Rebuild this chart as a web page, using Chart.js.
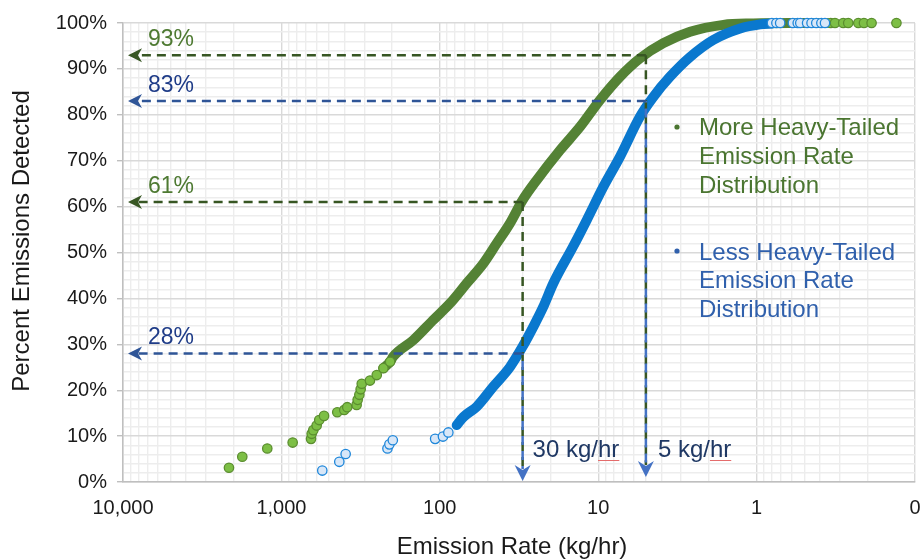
<!DOCTYPE html>
<html>
<head>
<meta charset="utf-8">
<script src="https://cdn.jsdelivr.net/npm/chart.js@4.4.0/dist/chart.umd.min.js"></script>
<style>
  html, body { margin: 0; padding: 0; background: #fff; }
  #wrap { width: 922px; height: 560px; }
</style>
</head>
<body>
<div id="wrap"><canvas id="chart" width="922" height="560"></canvas></div>
<script>
// More heavy-tailed distribution (green)
const greenDotRate = [2143, 1766, 1228, 849, 650, 644, 629, 599, 577, 538, 444, 401, 384, 335, 330, 322, 316, 311, 276, 250, 227, 206];
const greenDotPct = [3.1, 5.5, 7.3, 8.6, 9.4, 10.5, 11.3, 12.3, 13.5, 14.4, 15.2, 15.7, 16.3, 16.8, 17.9, 19.0, 20.2, 21.4, 22.1, 23.3, 24.8, 26.2];
const greenBandRate = [227, 206, 197, 147, 110, 86.3, 67.6, 53.1, 43.7, 36.0, 30, 24.4, 17.4, 13.0, 9.75, 7.28, 5.45, 3.88, 2.63, 1.62, 1.05, 0.615, 0.36];
const greenBandPct = [24.8, 26.2, 27.3, 30.9, 35.3, 38.9, 43.3, 47.6, 52.0, 56.4, 61.4, 65.8, 72.3, 77.4, 83.2, 88.3, 92.3, 95.6, 98.1, 99.6, 99.9, 100, 100];
const greenTopRate = [0.34, 0.32, 0.284, 0.264, 0.228, 0.21, 0.188, 0.131];
const greenTopPct = [100, 100, 100, 100, 100, 100, 100, 100];

// Less heavy-tailed distribution (blue)
const blueDotRate = [552, 431, 393, 214, 208, 198, 107, 95.5, 88.3];
const blueDotPct = [2.5, 4.4, 6.1, 7.3, 8.2, 9.1, 9.4, 9.9, 10.8];
const blueBandRate = [78.2, 70.8, 58.5, 45.9, 36.0, 30, 25.7, 22.2, 19.2, 14.4, 11.8, 9.29, 7.28, 5.45, 4.49, 3.52, 2.63, 1.88, 1.27, 0.95, 0.8];
const blueBandPct = [12.4, 14.2, 16.4, 20.8, 25.1, 29.5, 33.8, 38.2, 43.3, 51.3, 57.1, 64.3, 70.9, 79.6, 83.9, 88.3, 92.6, 96.3, 98.8, 99.7, 99.9];
const blueTopRate = [0.80, 0.75, 0.71, 0.59, 0.55, 0.53, 0.48, 0.45, 0.42, 0.39, 0.37];
const blueTopPct = [100, 100, 100, 100, 100, 100, 100, 100, 100, 100, 100];

// axes
const xTickValues = [10000, 1000, 100, 10, 1, 0.1];
const xTickLabels = ['10,000', '1,000', '100', '10', '1', '0'];

// detection thresholds
const thresholdRate = [30, 5];
const thresholdText = ['30 kg/hr', '5 kg/hr'];
const greenHitPct = [61, 93];
const blueHitPct = [28, 83];

const FONT = "'Liberation Sans', Arial, sans-serif";
const pts = (xs, ys) => xs.map((x, i) => ({ x: x, y: ys[i] }));
const isDecade = (v) => Math.abs(Math.log10(v) - Math.round(Math.log10(v))) < 1e-6;

function dashed(ctx, x1, y1, x2, y2, color, offset) {
  ctx.save();
  ctx.strokeStyle = color;
  ctx.lineWidth = 2.5;
  ctx.setLineDash([9, 6]);
  ctx.lineDashOffset = offset || 0;
  ctx.beginPath();
  ctx.moveTo(x1, y1);
  ctx.lineTo(x2, y2);
  ctx.stroke();
  ctx.restore();
}

function arrowHead(ctx, tx, ty, down, color) {
  const L = down ? 16 : 14, W = down ? 8 : 7, N = down ? 11 : 10;
  ctx.save();
  ctx.fillStyle = color;
  ctx.translate(tx, ty);
  if (down) ctx.rotate(-Math.PI / 2);
  ctx.beginPath();
  ctx.moveTo(0, 0);
  ctx.lineTo(L, -W);
  ctx.lineTo(N, 0);
  ctx.lineTo(L, W);
  ctx.closePath();
  ctx.fill();
  ctx.restore();
}

const guides = {
  id: 'guides',
  afterDatasetsDraw(chart) {
    const { ctx, chartArea } = chart;
    const x = chart.scales.x, y = chart.scales.y;
    const bottom = y.getPixelForValue(0);
    const tipLeft = chartArea.left + 5;

    thresholdRate.forEach((rate, i) => {
      const px = x.getPixelForValue(rate);
      const gy = y.getPixelForValue(greenHitPct[i]);
      const by = y.getPixelForValue(blueHitPct[i]);
      const tipY = i === 0 ? bottom - 1 : bottom - 5;
      // vertical guides
      dashed(ctx, px, gy, px, tipY - 12, '#375623', 0);
      dashed(ctx, px, by, px, tipY - 12, '#4472C4', 7.5);
      // horizontal guides
      dashed(ctx, px, gy, tipLeft + 9, gy, '#375623', 0);
      dashed(ctx, px, by, tipLeft + 9, by, '#2F5597', 0);
      arrowHead(ctx, tipLeft, gy, false, '#375623');
      arrowHead(ctx, tipLeft, by, false, '#2F5597');
      arrowHead(ctx, px, tipY, true, '#4472C4');

      ctx.save();
      ctx.font = '23px ' + FONT;
      ctx.textAlign = 'left';
      ctx.textBaseline = 'alphabetic';
      ctx.fillStyle = '#4E7A32';
      ctx.fillText(greenHitPct[i] + '%', chartArea.left + 25, gy - 9);
      ctx.fillStyle = '#1F3C88';
      ctx.fillText(blueHitPct[i] + '%', chartArea.left + 25, by - 9);
      ctx.font = '24px ' + FONT;
      ctx.fillStyle = '#1F3864';
      const tx = px + (i === 0 ? 10 : 12);
      ctx.fillText(thresholdText[i], tx, bottom - 25);
      // spell-check underline under "hr"
      const w0 = ctx.measureText(thresholdText[i].replace('hr', '')).width;
      const w1 = ctx.measureText('hr').width;
      ctx.strokeStyle = '#E46C6C';
      ctx.lineWidth = 1;
      ctx.beginPath();
      ctx.moveTo(tx + w0, bottom - 21.5);
      ctx.lineTo(tx + w0 + w1, bottom - 21.5);
      ctx.stroke();
      ctx.restore();
    });

    // in-plot legend
    ctx.save();
    ctx.font = '24px ' + FONT;
    ctx.textBaseline = 'alphabetic';
    ctx.textAlign = 'left';
    const lx = 699;
    const green = ['More Heavy-Tailed', 'Emission Rate', 'Distribution'];
    const blue = ['Less Heavy-Tailed', 'Emission Rate', 'Distribution'];
    ctx.fillStyle = '#4A7530';
    green.forEach((t, i) => ctx.fillText(t, lx, 135 + i * 29));
    ctx.beginPath(); ctx.arc(677, 127, 2.6, 0, Math.PI * 2); ctx.fill();
    ctx.fillStyle = '#3060AC';
    blue.forEach((t, i) => ctx.fillText(t, lx, 259.5 + i * 28.7));
    ctx.beginPath(); ctx.arc(677, 251, 2.6, 0, Math.PI * 2); ctx.fill();
    ctx.restore();
  },
  afterDraw(chart) {
    const { ctx } = chart;
    ctx.save();
    ctx.fillStyle = '#1a1a1a';
    ctx.font = '24px ' + FONT;
    ctx.textAlign = 'center';
    ctx.textBaseline = 'middle';
    ctx.fillText('Emission Rate (kg/hr)', 512, 547);
    ctx.translate(22, 241);
    ctx.rotate(-Math.PI / 2);
    ctx.fillText('Percent Emissions Detected', 0, 0);
    ctx.restore();
  }
};

const dotStyle = (fill, border) => ({
  showLine: false,
  pointRadius: 4.7,
  pointBackgroundColor: fill,
  pointBorderColor: border,
  pointBorderWidth: 1.3,
  clip: false
});
const bandStyle = (color) => ({
  showLine: true,
  pointRadius: 0,
  borderColor: color,
  borderWidth: 10,
  borderCapStyle: 'round',
  borderJoinStyle: 'round',
  cubicInterpolationMode: 'monotone',
  clip: false
});

new Chart(document.getElementById('chart'), {
  type: 'scatter',
  data: {
    datasets: [
      Object.assign({ label: 'Less top', data: pts(blueTopRate, blueTopPct), order: 0 }, dotStyle('#D8E7F8', '#1F87DA')),
      Object.assign({ label: 'Less tail', data: pts(blueDotRate, blueDotPct), order: 1 }, dotStyle('#D8E7F8', '#1F87DA')),
      Object.assign({ label: 'Less Heavy-Tailed Emission Rate Distribution', data: pts(blueBandRate, blueBandPct), order: 2 }, bandStyle('#0A78CE')),
      Object.assign({ label: 'More top', data: pts(greenTopRate, greenTopPct), order: 3 }, dotStyle('#7DBF45', '#5B8E2F')),
      Object.assign({ label: 'More tail', data: pts(greenDotRate, greenDotPct), order: 4 }, dotStyle('#7DBF45', '#5B8E2F')),
      Object.assign({ label: 'More Heavy-Tailed Emission Rate Distribution', data: pts(greenBandRate, greenBandPct), order: 5 }, bandStyle('#548235'))
    ]
  },
  options: {
    responsive: false,
    animation: false,
    events: [],
    layout: { padding: { top: 23, right: 7, left: 0, bottom: 0 } },
    plugins: {
      legend: { display: false },
      tooltip: { enabled: false }
    },
    scales: {
      x: {
        type: 'logarithmic',
        min: 0.1,
        max: 10000,
        reverse: true,
        afterBuildTicks: (scale) => {
          scale.ticks = scale.ticks.filter((t) => {
            const m = t.value / Math.pow(10, Math.floor(Math.log10(t.value) + 1e-9));
            return Math.abs(m - Math.round(m)) < 1e-6;
          });
        },
        afterFit: (scale) => {
          scale.height = 78;
          scale.paddingLeft = 0;
          scale.paddingRight = 0;
        },
        border: { color: '#BFBFBF', width: 1.5 },
        grid: {
          drawTicks: false,
          lineWidth: 1.4,
          color: (c) => (c.tick && isDecade(c.tick.value) ? '#D9D9D9' : '#EDEDED')
        },
        ticks: {
          autoSkip: false,
          maxRotation: 0,
          padding: 14,
          color: '#1a1a1a',
          font: { family: FONT, size: 20 },
          callback: (v) => {
            const i = xTickValues.findIndex((t) => Math.abs(Math.log10(t) - Math.log10(v)) < 1e-6);
            return i >= 0 ? xTickLabels[i] : '';
          }
        }
      },
      y: {
        min: 0,
        max: 100,
        afterFit: (scale) => { scale.width = 123; },
        border: { color: '#BFBFBF', width: 1.5 },
        grid: {
          tickLength: 6,
          lineWidth: 1.4,
          color: (c) => (c.tick && c.tick.value % 10 === 0 ? '#D9D9D9' : '#EDEDED'),
          tickColor: (c) => (c.tick && c.tick.value % 10 === 0 ? '#BFBFBF' : 'rgba(0,0,0,0)')
        },
        ticks: {
          stepSize: 2,
          autoSkip: false,
          padding: 10,
          color: '#1a1a1a',
          font: { family: FONT, size: 20 },
          callback: (v) => (v % 10 === 0 ? v + '%' : '')
        }
      }
    }
  },
  plugins: [guides]
});
</script>
</body>
</html>
